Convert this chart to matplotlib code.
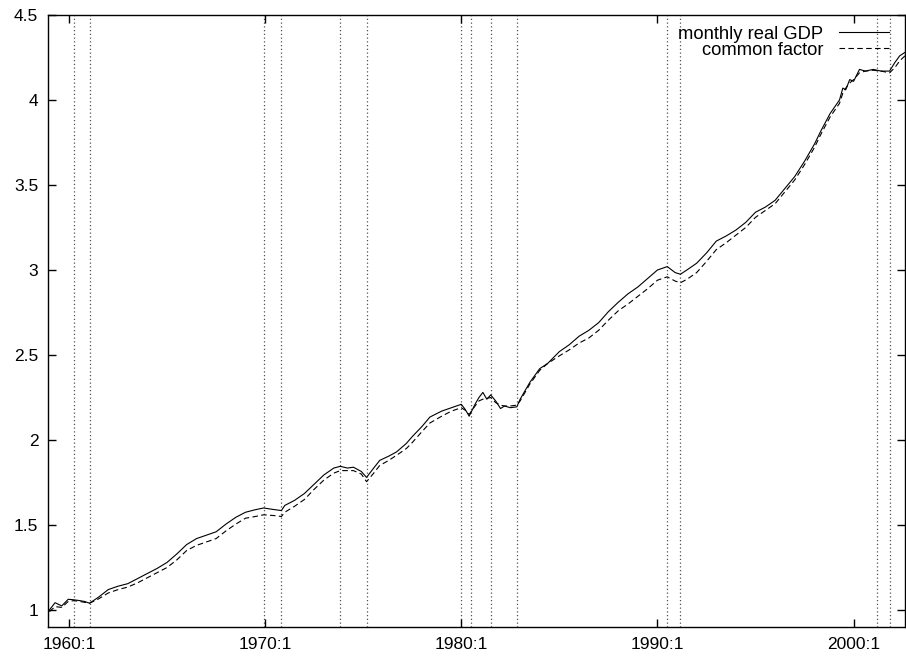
import matplotlib
matplotlib.use("Agg")
import matplotlib.pyplot as plt
import numpy as np

plt.rcParams['font.family'] = ['Liberation Sans', 'DejaVu Sans']

# data (decimal year = year + (month-1)/12)
t = [1959.0, 1959.29, 1959.63, 1959.96, 1960.25, 1960.56, 1960.8, 1961.05, 1961.5, 1962.0,
     1962.5, 1963.0, 1963.5, 1964.0, 1964.5, 1965.0, 1965.5, 1966.0, 1966.5, 1967.0,
     1967.5, 1968.0, 1968.5, 1969.0, 1969.5, 1969.92, 1970.5, 1970.83, 1971.0, 1971.5,
     1972.0, 1972.5, 1973.0, 1973.5, 1973.83, 1974.2, 1974.5, 1974.9, 1975.17, 1975.5,
     1975.84, 1976.3, 1976.7, 1977.2, 1977.5, 1978.0, 1978.4, 1979.0, 1979.5, 1980.0,
     1980.2, 1980.4, 1980.7, 1980.9, 1981.1, 1981.3, 1981.5, 1981.75, 1982.0, 1982.2,
     1982.5, 1982.83, 1983.0, 1983.5, 1984.0, 1984.4, 1985.0, 1985.5, 1986.0, 1986.5,
     1987.0, 1987.5, 1988.0, 1988.5, 1989.0, 1989.5, 1990.0, 1990.5, 1990.9, 1991.17,
     1991.5, 1992.0, 1992.5, 1993.0, 1993.5, 1994.0, 1994.5, 1995.0, 1995.5, 1996.0,
     1996.5, 1997.0, 1997.5, 1998.0, 1998.34, 1998.8, 1999.28, 1999.45, 1999.6, 1999.8,
     2000.0, 2000.3, 2000.6, 2001.0, 2001.4, 2001.83, 2002.1, 2002.35, 2002.62]

gdp = [1.00, 1.043, 1.024, 1.063, 1.06, 1.055, 1.05, 1.04, 1.075, 1.12,
       1.14, 1.155, 1.185, 1.215, 1.245, 1.28, 1.33, 1.385, 1.42, 1.44,
       1.46, 1.505, 1.545, 1.575, 1.59, 1.60, 1.59, 1.585, 1.615, 1.645,
       1.685, 1.74, 1.795, 1.835, 1.845, 1.835, 1.84, 1.815, 1.78, 1.83,
       1.88, 1.905, 1.93, 1.98, 2.02, 2.08, 2.135, 2.17, 2.19, 2.21,
       2.18, 2.14, 2.21, 2.25, 2.28, 2.24, 2.265, 2.23, 2.185, 2.20,
       2.19, 2.195, 2.24, 2.34, 2.42, 2.45, 2.52, 2.56, 2.61, 2.645,
       2.69, 2.755, 2.81, 2.86, 2.90, 2.95, 3.00, 3.02, 2.985, 2.975,
       3.00, 3.04, 3.10, 3.17, 3.20, 3.235, 3.28, 3.34, 3.37, 3.41,
       3.48, 3.55, 3.64, 3.74, 3.82, 3.92, 4.00, 4.07, 4.06, 4.12,
       4.11, 4.18, 4.17, 4.18, 4.17, 4.17, 4.22, 4.26, 4.28]

factor = [0.99, 1.02, 1.015, 1.05, 1.055, 1.05, 1.045, 1.04, 1.065, 1.10,
          1.12, 1.135, 1.16, 1.19, 1.22, 1.25, 1.295, 1.35, 1.38, 1.40,
          1.42, 1.465, 1.505, 1.54, 1.55, 1.56, 1.555, 1.55, 1.575, 1.61,
          1.65, 1.71, 1.765, 1.805, 1.82, 1.82, 1.82, 1.80, 1.755, 1.80,
          1.85, 1.88, 1.91, 1.95, 1.985, 2.05, 2.10, 2.14, 2.17, 2.19,
          2.175, 2.15, 2.20, 2.23, 2.24, 2.245, 2.25, 2.22, 2.205, 2.20,
          2.20, 2.205, 2.23, 2.33, 2.41, 2.45, 2.495, 2.53, 2.57, 2.60,
          2.645, 2.705, 2.76, 2.80, 2.845, 2.89, 2.94, 2.96, 2.935, 2.925,
          2.945, 2.985, 3.05, 3.12, 3.16, 3.205, 3.25, 3.31, 3.35, 3.39,
          3.46, 3.53, 3.62, 3.72, 3.80, 3.90, 3.98, 4.04, 4.07, 4.10,
          4.12, 4.16, 4.17, 4.175, 4.17, 4.16, 4.19, 4.23, 4.26]

# NBER peaks and troughs
recessions = [1960.25, 1961.08, 1969.92, 1970.83, 1973.83, 1975.17,
              1980.0, 1980.5, 1981.5, 1982.83, 1990.5, 1991.17, 2001.17, 2001.83]

xticks = [1960, 1970, 1980, 1990, 2000]
xticklabels = ['1960:1', '1970:1', '1980:1', '1990:1', '2000:1']
yticks = [1, 1.5, 2, 2.5, 3, 3.5, 4, 4.5]
yticklabels = ['1', '1.5', '2', '2.5', '3', '3.5', '4', '4.5']

fig = plt.figure(figsize=(9.06, 6.59), dpi=100)
ax = fig.add_axes([48/906, 1 - 627/659, 857/906, 612/659])

for r in recessions:
    ax.axvline(r, color='#505050', linestyle=(0, (1, 2)), linewidth=0.9, zorder=1)

ax.plot(t, gdp, color='black', linewidth=0.8, label='monthly real GDP', zorder=3)
ax.plot(t, factor, color='black', linewidth=0.8, linestyle=(0, (5, 3)),
        label='common factor', zorder=2)

ax.set_xlim(1958.93, 2002.62)
ax.set_ylim(0.9, 4.5)
ax.set_xticks(xticks)
ax.set_xticklabels(xticklabels)
ax.set_yticks(yticks)
ax.set_yticklabels(yticklabels)
ax.tick_params(direction='in', length=6, width=1, labelsize=12.5,
               top=True, right=True, pad=7)
for s in ax.spines.values():
    s.set_linewidth(1)

ax.legend(loc='upper right', bbox_to_anchor=(1.0, 1.008), frameon=False,
          markerfirst=False, fontsize=13.2, handlelength=2.75, handletextpad=0.85,
          labelspacing=-0.05, borderaxespad=0.55, borderpad=0.3)

fig.savefig('out.png', dpi=100)
